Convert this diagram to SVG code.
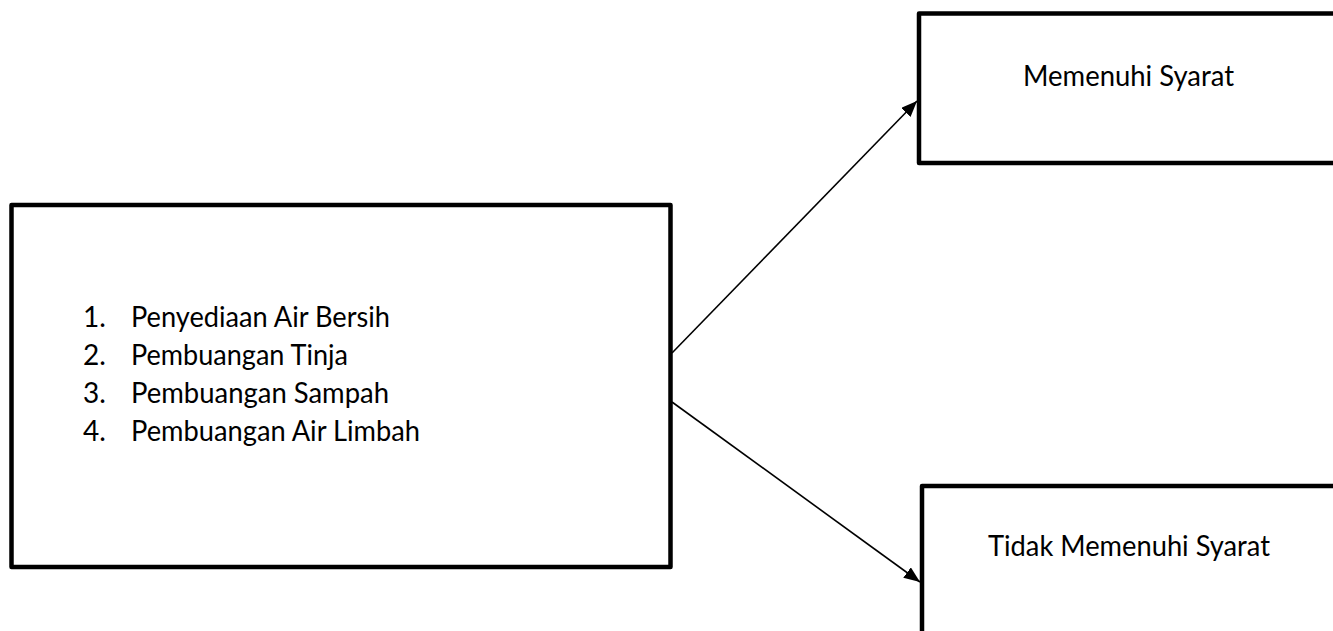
<svg xmlns="http://www.w3.org/2000/svg" width="1333" height="631" viewBox="0 0 1333 631">
  <style>
    .box { fill: #ffffff; stroke: #000000; stroke-width: 4.5; stroke-linejoin: round; }
    .lbl { font-family: "Lato", "Open Sans", "Liberation Sans", sans-serif; font-size: 28px; fill: #000000; }
    .conn { stroke: #000000; stroke-width: 1.6; fill: none; }
  </style>
  <defs>
    <marker id="arrow" markerUnits="userSpaceOnUse" markerWidth="18" markerHeight="14" refX="16" refY="6.5" orient="auto">
      <path d="M0,0 L16,6.5 L0,13 Z" fill="#000000"/>
    </marker>
  </defs>
  <rect width="1333" height="631" fill="#ffffff"/>

  <g id="node-kriteria">
    <rect class="box" x="11.5" y="205" width="659" height="362"/>
    <text class="lbl" x="83" y="327">1.</text>
    <text class="lbl" x="131" y="327" textLength="259" lengthAdjust="spacingAndGlyphs">Penyediaan Air Bersih</text>
    <text class="lbl" x="83" y="365">2.</text>
    <text class="lbl" x="131" y="365" textLength="217" lengthAdjust="spacingAndGlyphs">Pembuangan Tinja</text>
    <text class="lbl" x="83" y="403">3.</text>
    <text class="lbl" x="131" y="403" textLength="258" lengthAdjust="spacingAndGlyphs">Pembuangan Sampah</text>
    <text class="lbl" x="83" y="441">4.</text>
    <text class="lbl" x="131" y="441" textLength="289" lengthAdjust="spacingAndGlyphs">Pembuangan Air Limbah</text>
  </g>

  <g id="node-memenuhi">
    <rect class="box" x="919" y="13.5" width="430" height="149.5"/>
    <text class="lbl" x="1023" y="86" textLength="211" lengthAdjust="spacingAndGlyphs">Memenuhi Syarat</text>
  </g>

  <g id="node-tidak">
    <rect class="box" x="922" y="486" width="430" height="160"/>
    <text class="lbl" x="988" y="556" textLength="282" lengthAdjust="spacingAndGlyphs">Tidak Memenuhi Syarat</text>
  </g>

  <g id="connectors">
    <line class="conn" x1="672" y1="353" x2="917" y2="101" marker-end="url(#arrow)"/>
    <line class="conn" x1="672" y1="402" x2="920" y2="582" marker-end="url(#arrow)"/>
  </g>
</svg>
